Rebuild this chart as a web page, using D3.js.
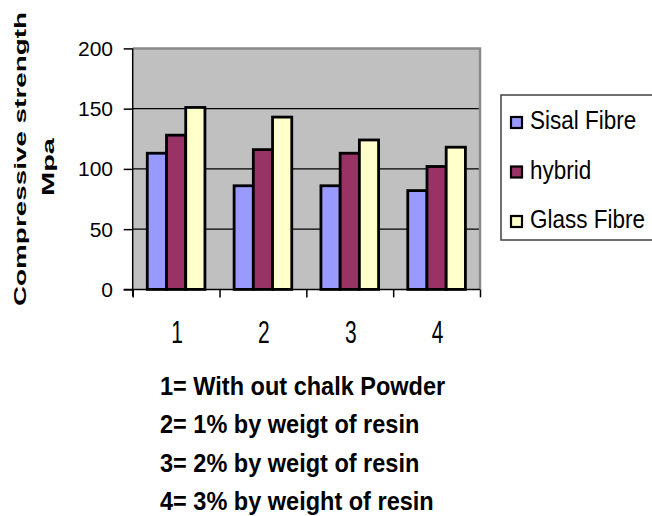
<!DOCTYPE html>
<html>
<head>
<meta charset="utf-8">
<script src="https://cdn.jsdelivr.net/npm/d3@7"></script>
<style>
  html, body { margin: 0; padding: 0; background: #fff; }
  svg { display: block; }
  text { font-family: "Liberation Sans", Arial, Helvetica, sans-serif; fill: #000; }
</style>
</head>
<body>
<svg id="chart" width="652" height="516"></svg>
<script>
// Compressive strength (MPa) by chalk-powder content
const categories = ["1", "2", "3", "4"];
const seriesNames = ["Sisal Fibre", "hybrid", "Glass Fibre"];
const sisalValues = [113, 86, 86, 82];
const hybridValues = [128, 116, 113, 102];
const glassValues = [151, 143, 124, 118];
const seriesColors = ["#9999FF", "#993366", "#FFFFCC"];
const yTicks = [0, 50, 100, 150, 200];
const notes = [
  "1= With out chalk Powder",
  "2= 1% by weigt of resin",
  "3= 2% by weigt of resin",
  "4= 3% by weight of resin"
];
const yTitle = ["Compressive strength", "Mpa"];

const seriesValues = [sisalValues, hybridValues, glassValues];

const svg = d3.select("#chart");
const plot = { left: 132.7, right: 480, top: 48.4, bottom: 289.4 };

const y = d3.scaleLinear().domain([0, 200]).range([plot.bottom, plot.top]);
const x0 = d3.scaleBand().domain(categories)
  .range([plot.left, plot.right]).paddingInner(0.336).paddingOuter(0.168);
const x1 = d3.scaleBand().domain(d3.range(seriesNames.length))
  .range([0, x0.bandwidth()]);
const xEdges = d3.scaleLinear().domain([0, categories.length])
  .range([plot.left, plot.right]);

// plot background
svg.append("rect")
  .attr("x", plot.left).attr("y", plot.top)
  .attr("width", plot.right - plot.left).attr("height", plot.bottom - plot.top)
  .attr("fill", "#C0C0C0");

// horizontal gridlines
svg.append("g").selectAll("line")
  .data(yTicks.filter(v => v > 0 && v < 200))
  .join("line")
  .attr("x1", plot.left).attr("x2", plot.right)
  .attr("y1", d => y(d)).attr("y2", d => y(d))
  .attr("stroke", "#000").attr("stroke-width", 1.2);

// plot frame (grey)
svg.append("path")
  .attr("d", `M${plot.left},${plot.top}H${plot.right}V${plot.bottom}`)
  .attr("fill", "none").attr("stroke", "#8a8a8a").attr("stroke-width", 2.5);

// bars
const rows = categories.map((c, i) => ({ cat: c, vals: seriesValues.map(s => s[i]) }));
const groups = svg.append("g").selectAll("g")
  .data(rows).join("g")
  .attr("transform", d => `translate(${x0(d.cat)},0)`);
groups.selectAll("rect")
  .data(d => d.vals.map((v, k) => ({ v, k })))
  .join("rect")
  .attr("x", d => x1(d.k))
  .attr("width", x1.bandwidth())
  .attr("y", d => y(d.v))
  .attr("height", d => y(0) - y(d.v))
  .attr("fill", d => seriesColors[d.k])
  .attr("stroke", "#000").attr("stroke-width", 2.8);

// y axis
const yAxis = svg.append("g")
  .attr("transform", `translate(${plot.left},0)`)
  .call(d3.axisLeft(y).tickValues(yTicks).tickSize(9).tickFormat(""));
yAxis.select(".domain").attr("stroke", "#000").attr("stroke-width", 1.5)
  .attr("d", `M0,${plot.top}V${plot.bottom + 7}`);
yAxis.selectAll(".tick line").attr("stroke", "#000").attr("stroke-width", 1.5);

svg.append("g").selectAll("text")
  .data(yTicks).join("text")
  .attr("x", 113).attr("y", d => y(d) + 7.5)
  .attr("text-anchor", "end")
  .style("font-size", "21px")
  .text(d => d);

// x axis with ticks at category boundaries
const xAxis = svg.append("g")
  .attr("transform", `translate(0,${plot.bottom})`)
  .call(d3.axisBottom(xEdges).tickValues(d3.range(categories.length + 1)).tickSize(8).tickFormat(""));
xAxis.select(".domain").attr("stroke", "#000").attr("stroke-width", 1.5)
  .attr("d", `M${plot.left - 9},0H${plot.right}`);
xAxis.selectAll(".tick line").attr("stroke", "#000").attr("stroke-width", 1.5);

svg.append("g").selectAll("text")
  .data(categories).join("text")
  .attr("transform", d => `translate(${x0(d) + x0.bandwidth() / 2 + 1},343) scale(1,1.45)`)
  .attr("text-anchor", "middle")
  .style("font-size", "21px")
  .text(d => d);

// y axis title (two rotated lines)
svg.append("text")
  .attr("transform", "translate(26,159) rotate(-90)")
  .attr("text-anchor", "middle")
  .attr("textLength", 294).attr("lengthAdjust", "spacingAndGlyphs")
  .style("font-size", "17px").style("font-weight", "bold")
  .text(yTitle[0]);
svg.append("text")
  .attr("transform", "translate(54,167) rotate(-90)")
  .attr("text-anchor", "middle")
  .attr("textLength", 58).attr("lengthAdjust", "spacingAndGlyphs")
  .style("font-size", "17px").style("font-weight", "bold")
  .text(yTitle[1]);

// legend
const legend = svg.append("g");
legend.append("rect")
  .attr("x", 501).attr("y", 95).attr("width", 170).attr("height", 145)
  .attr("fill", "#fff").attr("stroke", "#404040").attr("stroke-width", 1.5);
const legendY = d3.scalePoint().domain(seriesNames).range([129, 228]);
const items = legend.selectAll("g.item").data(seriesNames).join("g")
  .attr("class", "item")
  .attr("transform", d => `translate(0,${legendY(d)})`);
items.append("rect")
  .attr("x", 511).attr("y", -12).attr("width", 11).attr("height", 11)
  .attr("fill", (d, i) => seriesColors[i])
  .attr("stroke", "#000").attr("stroke-width", 2.2);
items.append("text")
  .attr("transform", "translate(530,0) scale(1,1.12)")
  .style("font-size", "22.5px")
  .text(d => d);

// notes under the chart
const noteY = d3.scalePoint().domain(d3.range(notes.length)).range([395, 510]);
svg.append("g").selectAll("text")
  .data(notes).join("text")
  .attr("transform", (d, i) => `translate(160,${noteY(i)}) scale(0.98,1.06)`)
  .style("font-size", "24px").style("font-weight", "bold")
  .text(d => d);
</script>
</body>
</html>
